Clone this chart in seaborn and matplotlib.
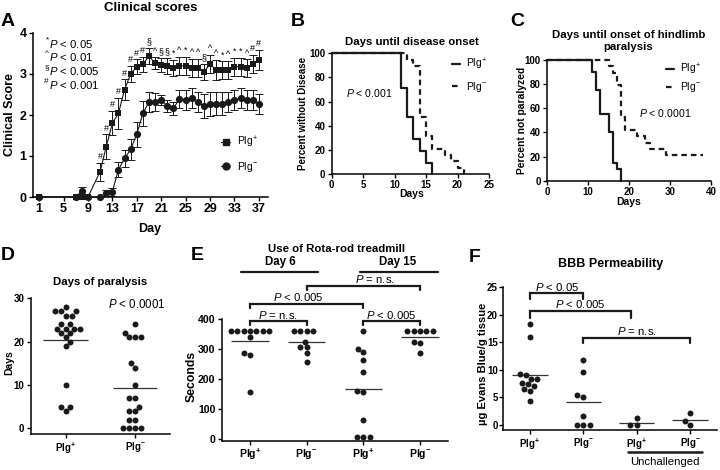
import numpy as np
import pandas as pd
import matplotlib
matplotlib.use("Agg")
import matplotlib.pyplot as plt
from matplotlib.lines import Line2D
import seaborn as sns

# ---------------- data ----------------
# Panel A: clinical scores (mean +/- SEM)
days = [1, 7, 8, 9] + list(range(11, 38))
score_pos = [0, 0, 0, 0, 0.62, 1.23, 1.80, 2.04, 2.62, 3.00, 3.18, 3.24, 3.44, 3.26,
             3.22, 3.20, 3.15, 3.20, 3.20, 3.15, 3.15, 3.05, 3.24, 3.10, 3.10, 3.10,
             3.18, 3.18, 3.14, 3.25, 3.34]
sem_pos = [0, 0, 0, 0, 0.22, 0.30, 0.30, 0.38, 0.25, 0.20, 0.18, 0.18, 0.20, 0.15,
           0.18, 0.20, 0.20, 0.22, 0.22, 0.22, 0.22, 0.20, 0.22, 0.25, 0.22, 0.22,
           0.22, 0.22, 0.22, 0.22, 0.25]
score_neg = [0, 0, 0.15, 0, 0, 0.10, 0.13, 0.67, 0.94, 1.16, 1.53, 2.04, 2.32, 2.32,
             2.36, 2.22, 2.16, 2.40, 2.37, 2.42, 2.32, 2.22, 2.27, 2.27, 2.27, 2.32,
             2.37, 2.42, 2.37, 2.37, 2.27]
sem_neg = [0, 0, 0.10, 0, 0, 0.08, 0.10, 0.18, 0.20, 0.25, 0.30, 0.30, 0.25, 0.22,
           0.12, 0.15, 0.15, 0.22, 0.25, 0.25, 0.25, 0.30, 0.30, 0.28, 0.28, 0.25,
           0.25, 0.25, 0.25, 0.25, 0.25]
sig_days = list(range(11, 38))
sig_marks = list("########§^§§*^*^^§^^*^**^##")

# Panel B: days until disease onset (Kaplan-Meier)
b_t_pos = [0, 11, 12, 13, 14, 15, 16]
b_s_pos = [100, 71.4, 47.6, 28.6, 19.0, 9.5, 0]
b_t_neg = [0, 12, 13, 14, 15, 16, 18, 19, 20, 21]
b_s_neg = [100, 94.7, 89.5, 47.4, 31.6, 21.1, 15.8, 10.5, 5.3, 0]

# Panel C: days until onset of hindlimb paralysis
c_t_pos = [0, 11, 12, 13, 15, 16, 17, 18]
c_s_pos = [100, 90, 75, 55, 40, 15, 10, 0]
c_t_neg = [0, 15, 16, 17, 18, 19, 22, 24, 25, 29, 38]
c_s_neg = [100, 94.7, 89.5, 78.9, 52.6, 42.1, 36.8, 31.6, 26.3, 21.1, 21.1]

# Panel D: days of paralysis
d_pos = [28, 27, 27, 27, 26, 26, 24, 24, 23, 23, 23, 23, 22, 22, 21, 20, 19, 10, 5, 5, 4]
d_neg = [24, 22, 21, 21, 21, 15, 14, 10, 7, 7, 5, 4, 4, 2, 2, 0, 0, 0, 0]

# Panel E: Rota-rod (seconds)
e_d6_pos = [360, 360, 360, 360, 360, 360, 360, 340, 285, 280, 155]
e_d6_neg = [360, 360, 360, 360, 324, 305, 305, 285, 258]
e_d15_pos = [360, 299, 289, 263, 224, 160, 158, 63, 5, 5, 5]
e_d15_neg = [360, 360, 360, 360, 360, 324, 321, 285]

# Panel F: BBB permeability
f_pos = [18.3, 15.9, 9.3, 9.1, 8.4, 8.4, 7.6, 7.4, 7.0, 6.5, 6.2, 4.4]
f_neg = [11.8, 9.7, 5.4, 5.1, 1.7, 0, 0, 0]
f_pos_unch = [1.2, 0, 0]
f_neg_unch = [2.2, 0.7, 0]

# ---------------- style ----------------
sns.set_theme(style="ticks", rc={
    "axes.edgecolor": "black", "xtick.color": "black", "ytick.color": "black",
    "text.color": "black", "axes.labelcolor": "black", "axes.linewidth": 1.1,
    "xtick.major.width": 1.0, "ytick.major.width": 1.0,
    "xtick.major.size": 3, "ytick.major.size": 3,
})
plt.rcParams["font.family"] = ["Liberation Sans", "DejaVu Sans"]
plt.rcParams["mathtext.fontset"] = "custom"
plt.rcParams["mathtext.rm"] = "Liberation Sans"
plt.rcParams["mathtext.it"] = "Liberation Sans:italic"
plt.rcParams["mathtext.bf"] = "Liberation Sans:bold"

W, H = 720, 470
fig = plt.figure(figsize=(7.2, 4.7), dpi=100)


def add_ax(l, t, r, b):
    return fig.add_axes([l / W, 1 - b / H, (r - l) / W, (b - t) / H])


def ftext(x, y, s, **kw):
    kw.setdefault("ha", "center")
    kw.setdefault("va", "center")
    fig.text(x / W, 1 - y / H, s, **kw)


def finish(ax, fs):
    sns.despine(ax=ax)
    ax.tick_params(labelsize=fs, pad=1.5)
    for lb in ax.get_xticklabels() + ax.get_yticklabels():
        lb.set_fontweight("bold")
    ax.set_xlabel("")
    ax.set_ylabel("")


PP = r"$\mathit{P}$"
LAB_P = r"Plg$^{+}$"
LAB_M = r"Plg$^{-}$"
BLAB_P = r"$\mathbf{Plg}^{\mathbf{+}}$"
BLAB_M = r"$\mathbf{Plg}^{\mathbf{-}}$"

# ---------------- Panel A ----------------
axA = add_ax(33, 33, 268, 197)
sns.lineplot(x=days, y=score_pos, ax=axA, color="k", lw=0.8, marker="s", markersize=5,
             markeredgewidth=0, errorbar=None, clip_on=False, zorder=3)
sns.lineplot(x=days, y=score_neg, ax=axA, color="k", lw=0.8, marker="o", markersize=5.2,
             markeredgewidth=0, errorbar=None, clip_on=False, zorder=3)
axA.errorbar(days, score_pos, yerr=sem_pos, fmt="none", ecolor="k", elinewidth=0.7,
             capsize=2.6, capthick=0.7, clip_on=False)
axA.errorbar(days, score_neg, yerr=sem_neg, fmt="none", ecolor="k", elinewidth=0.7,
             capsize=2.6, capthick=0.7, clip_on=False)
top = {d: s + e for d, s, e in zip(days, score_pos, sem_pos)}
for d, m in zip(sig_days, sig_marks):
    axA.text(d, top[d] + 0.04, m, ha="center", va="bottom", fontsize=6.5)
axA.set_xlim(0, 38.5)
axA.set_ylim(0, 4)
axA.set_xticks(range(1, 38, 4))
axA.set_yticks(range(0, 5))
finish(axA, 9)
axA.legend(handles=[Line2D([], [], color="k", lw=0.8, marker="s", markersize=5),
                    Line2D([], [], color="k", lw=0.8, marker="o", markersize=5)],
           labels=[LAB_P, LAB_M], loc="upper left", bbox_to_anchor=(221 / W, 1 - 135 / H),
           bbox_transform=fig.transFigure, frameon=False, fontsize=7.5, handlelength=0.9,
           handletextpad=0.6, labelspacing=0.9, borderpad=0, borderaxespad=0)
ftext(150.5, 8, "Clinical scores", fontsize=9.5, fontweight="bold")
ftext(8, 22, "A", fontsize=14, fontweight="bold")
ftext(10, 115, "Clinical Score", rotation=90, fontsize=9, fontweight="bold")
ftext(150, 229, "Day", fontsize=9, fontweight="bold")
sig_leg = [("*", " < 0.05"), ("^", " < 0.01"), ("§", " < 0.005"), ("#", " < 0.001")]
for i, (sym, txt) in enumerate(sig_leg):
    y = 43.5 + i * 13.7
    ftext(48.8, y - 3.5, sym, ha="right", fontsize=6)
    ftext(49.3, y, PP + txt, ha="left", fontsize=8.2)

# ---------------- Panel B ----------------
axB = add_ax(331.7, 53.3, 489, 174)
sns.lineplot(x=b_t_pos, y=b_s_pos, ax=axB, color="k", lw=1.6, drawstyle="steps-post",
             errorbar=None, clip_on=False)
sns.lineplot(x=b_t_neg, y=b_s_neg, ax=axB, color="k", lw=1.6, drawstyle="steps-post",
             linestyle=(0, (2.5, 1.8)), errorbar=None, clip_on=False)
axB.set_xlim(0, 25)
axB.set_ylim(0, 100)
axB.set_xticks(range(0, 26, 5))
axB.set_yticks(range(0, 101, 20))
finish(axB, 7)
axB.legend(handles=[Line2D([], [], color="k", lw=1.6),
                    Line2D([], [], color="k", lw=1.6, linestyle=(0, (2.5, 1.8)))],
           labels=[LAB_P, LAB_M], loc="upper left", bbox_to_anchor=(452 / W, 1 - 57 / H),
           bbox_transform=fig.transFigure, frameon=False, fontsize=7.5, handlelength=0.8,
           handletextpad=0.5, labelspacing=0.75, borderpad=0, borderaxespad=0)
ftext(411.5, 42, "Days until disease onset", fontsize=8.2, fontweight="bold")
ftext(298, 21, "B", fontsize=14, fontweight="bold")
ftext(303, 113.7, "Percent without Disease", rotation=90, fontsize=7, fontweight="bold")
ftext(411.7, 194, "Days", fontsize=7.5, fontweight="bold")
ftext(369, 93.3, PP + " < 0.001", fontsize=7.6)

# ---------------- Panel C ----------------
axC = add_ax(547, 60, 711, 180.7)
sns.lineplot(x=c_t_pos, y=c_s_pos, ax=axC, color="k", lw=1.6, drawstyle="steps-post",
             errorbar=None, clip_on=False)
sns.lineplot(x=c_t_neg, y=c_s_neg, ax=axC, color="k", lw=1.6, drawstyle="steps-post",
             linestyle=(0, (2.5, 1.8)), errorbar=None, clip_on=False)
axC.set_xlim(0, 40)
axC.set_ylim(0, 100)
axC.set_xticks(range(0, 41, 10))
axC.set_yticks(range(0, 101, 20))
finish(axC, 7)
axC.legend(handles=[Line2D([], [], color="k", lw=1.6),
                    Line2D([], [], color="k", lw=1.6, linestyle=(0, (2.5, 1.8)))],
           labels=[LAB_P, LAB_M], loc="upper left", bbox_to_anchor=(666 / W, 1 - 62 / H),
           bbox_transform=fig.transFigure, frameon=False, fontsize=7.5, handlelength=0.8,
           handletextpad=0.5, labelspacing=0.3, borderpad=0, borderaxespad=0)
ftext(628.3, 41, "Days until onset of hindlimb\nparalysis", fontsize=8.2,
      fontweight="bold", linespacing=1.15)
ftext(517, 21, "C", fontsize=14, fontweight="bold")
ftext(522, 120, "Percent not paralyzed", rotation=90, fontsize=7.4, fontweight="bold")
ftext(628.7, 201.7, "Days", fontsize=7.5, fontweight="bold")
ftext(665, 113.3, PP + " < 0.0001", fontsize=7.6)

# ---------------- Panel D ----------------
axD = add_ax(30.7, 298.3, 170, 434)
dfD = pd.DataFrame({"grp": ["p"] * len(d_pos) + ["m"] * len(d_neg), "val": d_pos + d_neg})
sns.swarmplot(data=dfD, x="grp", y="val", order=["p", "m"], color="k", size=4.3,
              linewidth=0, ax=axD, clip_on=False)
for i, v in enumerate([d_pos, d_neg]):
    axD.hlines(np.mean(v), i - 0.32, i + 0.32, color="#333333", lw=0.9)
axD.set_xlim(-0.5, 1.5)
axD.set_ylim(-1.3, 30)
axD.set_yticks([0, 10, 20, 30])
axD.set_xticks([0, 1])
axD.set_xticklabels([BLAB_P, BLAB_M], fontsize=7)
finish(axD, 7)
ftext(100.5, 282, "Days of paralysis", fontsize=8.2, fontweight="bold")
ftext(8, 255, "D", fontsize=14, fontweight="bold")
ftext(9.5, 363, "Days", rotation=90, fontsize=7.5, fontweight="bold")
ftext(136.3, 305, PP + " < 0.0001", fontsize=8.3)


def bracket(ax, x1, x2, y, h, text, tx=None, ty=None, fs=8.2):
    ax.plot([x1, x1, x2, x2], [y - h, y, y, y - h], color="k", lw=1.6, clip_on=False,
            solid_joinstyle="miter")
    ax.text((x1 + x2) / 2 if tx is None else tx, y + h * 0.15 if ty is None else ty,
            text, ha="center", va="bottom", fontsize=fs, clip_on=False)


# ---------------- Panel E ----------------
axE = add_ax(221.7, 319, 448.3, 440.7)
e_groups = [e_d6_pos, e_d6_neg, e_d15_pos, e_d15_neg]
e_keys = ["d6p", "d6m", "d15p", "d15m"]
dfE = pd.DataFrame({"grp": sum([[k] * len(v) for k, v in zip(e_keys, e_groups)], []),
                    "val": sum(e_groups, [])})
sns.swarmplot(data=dfE, x="grp", y="val", order=e_keys, color="k", size=4.3,
              linewidth=0, ax=axE, clip_on=False)
for i, v in enumerate(e_groups):
    axE.hlines(np.mean(v), i - 0.33, i + 0.33, color="#333333", lw=0.9)
axE.set_xlim(-0.5, 3.5)
axE.set_ylim(-5.7, 400)
axE.set_yticks(range(0, 401, 100))
axE.set_xticks(range(4))
axE.set_xticklabels([BLAB_P, BLAB_M, BLAB_P, BLAB_M], fontsize=8.8)
finish(axE, 7.6)
bracket(axE, 0, 1, 393, 13, PP + " = n.s.")
bracket(axE, 2, 3, 393, 13, PP + " < 0.005")
bracket(axE, 0, 2, 450, 13, PP + " < 0.005", tx=0.85)
bracket(axE, 1, 3, 511, 13, PP + " = n.s.", tx=2.2)
axE.plot([-0.16, 1.2], [557, 557], color="k", lw=1.6, clip_on=False)
axE.plot([1.94, 3.32], [557, 557], color="k", lw=1.6, clip_on=False)
ftext(280, 262.5, "Day 6", fontsize=8.3, fontweight="bold")
ftext(398, 262.5, "Day 15", fontsize=8.3, fontweight="bold")
ftext(336.7, 249, "Use of Rota-rod treadmill", fontsize=8.2, fontweight="bold")
ftext(197, 255, "E", fontsize=14, fontweight="bold")
ftext(191.7, 376, "Seconds", rotation=90, fontsize=8.8, fontweight="bold")

# ---------------- Panel F ----------------
axF = add_ax(503.3, 287.3, 716.7, 430)
f_groups = [f_pos, f_neg, f_pos_unch, f_neg_unch]
f_keys = ["fp", "fm", "up", "um"]
dfF = pd.DataFrame({"grp": sum([[k] * len(v) for k, v in zip(f_keys, f_groups)], []),
                    "val": sum(f_groups, [])})
sns.swarmplot(data=dfF, x="grp", y="val", order=f_keys, color="k", size=4.3,
              linewidth=0, ax=axF, clip_on=False)
for i, v in enumerate(f_groups):
    axF.hlines(np.mean(v), i - 0.33, i + 0.33, color="#333333", lw=0.9)
axF.set_xlim(-0.5, 3.5)
axF.set_ylim(-0.9, 25)
axF.set_yticks(range(0, 26, 5))
axF.set_xticks(range(4))
axF.set_xticklabels([BLAB_P, BLAB_M, BLAB_P, BLAB_M], fontsize=9.2)
finish(axF, 7.0)
axF.tick_params(axis="y", pad=1)
bracket(axF, 0, 1, 23.9, 1.0, PP + " < 0.05")
bracket(axF, 0, 1.9, 20.7, 1.2, PP + " < 0.005")
bracket(axF, 1, 3, 15.8, 0.9, PP + " = n.s.")
axF.plot([1.84, 3.22], [-4.85, -4.85], color="k", lw=1.8, clip_on=False)
ftext(665, 462, "Unchallenged", fontsize=8.2)
ftext(610.5, 264, "BBB Permeability", fontsize=9, fontweight="bold")
ftext(475, 257, "F", fontsize=14, fontweight="bold")
ftext(483, 364, "µg Evans Blue/g tissue", rotation=90, fontsize=8.0, fontweight="bold")

fig.savefig("out.png", dpi=100)
